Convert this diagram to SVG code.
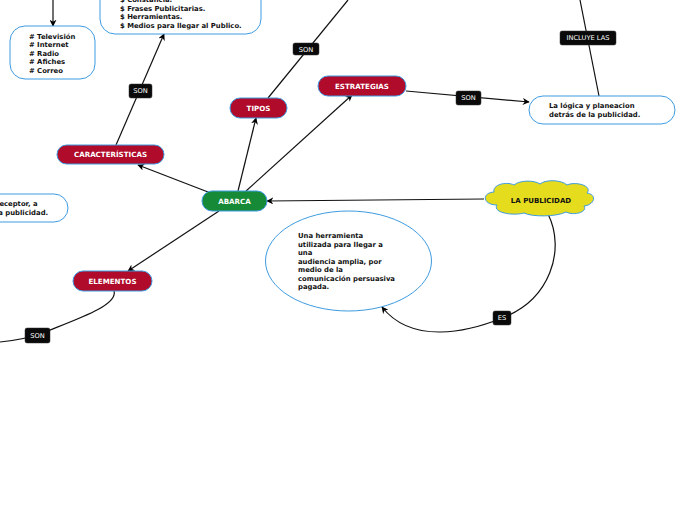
<svg xmlns="http://www.w3.org/2000/svg" width="696" height="520" viewBox="0 0 696 520">
<defs>
<marker id="arr" viewBox="0 0 10 10" refX="9" refY="5" markerWidth="7" markerHeight="7" orient="auto" markerUnits="userSpaceOnUse"><path d="M0,0 L10,5 L0,10 L3,5 Z" fill="#000"/></marker>
<style>
.c{stroke:#111;stroke-width:1.2;fill:none}
.ca{stroke:#111;stroke-width:1.2;fill:none;marker-end:url(#arr)}
.red{fill:#b00b2b;stroke:#3d9be0;stroke-width:1}
.grn{fill:#178a38;stroke:#3d9be0;stroke-width:1}
.box{fill:#fff;stroke:#3d9be0;stroke-width:1}
.nt{font-family:"DejaVu Sans",Verdana,sans-serif;font-weight:bold;font-size:7.1px;fill:#fff;text-anchor:middle}
.bt{font-family:"DejaVu Sans",Verdana,sans-serif;font-weight:bold;font-size:6.85px;fill:#111}
.lb{fill:#0a0a0a;stroke:#333;stroke-width:0.5}
.lt{font-family:"DejaVu Sans",Verdana,sans-serif;font-size:6.7px;fill:#fff;text-anchor:middle}
</style>
</defs>
<rect width="696" height="520" fill="#fff"/>
<g id="connectors">
<path class="ca" d="M53,0 L53,26"/>
<path class="ca" d="M116,145 L164,34"/>
<path class="ca" d="M208,192 L138,165"/>
<path class="ca" d="M238,191 L256,118"/>
<path class="ca" d="M246,191 L352,95"/>
<path class="ca" d="M219,211 L128,271"/>
<path class="ca" d="M484,199 L267,201"/>
<path class="c" d="M268,98 L348,0"/>
<path class="ca" d="M406,91 L529,102"/>
<path class="c" d="M599,96 L580,0"/>
<path class="ca" d="M548,214 C566,250 550,300 502,318 C468,332 412,345 382,307"/>
<path class="c" d="M114,291 C118,305 80,318 45,332 C30,338 10,341 0,342"/>
<g><rect class="lb" x="129" y="84" width="23" height="14" rx="2"/><text class="lt" x="140.5" y="93.4">SON</text></g>
<g><rect class="lb" x="293" y="43" width="26" height="12" rx="2"/><text class="lt" x="306" y="51.5">SON</text></g>
<g><rect class="lb" x="456" y="91" width="25" height="14" rx="2"/><text class="lt" x="468.5" y="100.4">SON</text></g>
<g><rect class="lb" x="560" y="31" width="56" height="14" rx="2"/><text class="lt" x="588" y="40.4">INCLUYE LAS</text></g>
<g><rect class="lb" x="493" y="311" width="18" height="14" rx="2"/><text class="lt" x="502" y="320.4">ES</text></g>
<g><rect class="lb" x="25" y="328" width="25" height="15" rx="2"/><text class="lt" x="37.5" y="337.9">SON</text></g>
</g>
<g id="abarca"><rect class="grn" x="202" y="191" width="65" height="20" rx="10"/><text class="nt" x="234.5" y="203.5">ABARCA</text></g>
<g id="caracteristicas"><rect class="red" x="57" y="145" width="107" height="19" rx="9.5"/><text class="nt" x="110.5" y="157.2">CARACTERÍSTICAS</text></g>
<g id="tipos"><rect class="red" x="230" y="98" width="57" height="20" rx="10"/><text class="nt" x="258.5" y="110.5">TIPOS</text></g>
<g id="estrategias"><rect class="red" x="318" y="76" width="88" height="20" rx="10"/><text class="nt" x="362" y="88.5">ESTRATEGIAS</text></g>
<g id="elementos"><rect class="red" x="73" y="271" width="79" height="20" rx="10"/><text class="nt" x="112.5" y="283.5">ELEMENTOS</text></g>
<g id="la-publicidad">
<path d="M497,205 C483,205 481,193 494,192 C492,185 506,181 514,185 C520,180 534,180 540,184 C546,179 562,180 567,185 C576,181 593,186 587,193 C598,195 594,205 584,206 C588,212 574,216 566,212 C556,217 532,217 524,213 C514,216 492,213 497,205 Z" fill="#e6dc1e" stroke="#3d9be0" stroke-width="1"/>
<text x="541" y="203" font-family="DejaVu Sans,Verdana,sans-serif" font-weight="bold" font-size="7" fill="#111" text-anchor="middle">LA PUBLICIDAD</text>
</g>
<g id="definicion">
<ellipse class="box" cx="348.5" cy="261" rx="83" ry="50"/>
<text class="bt"><tspan x="298" y="238">Una herramienta</tspan><tspan x="298" y="246.5">utilizada para llegar a</tspan><tspan x="298" y="255">una</tspan><tspan x="298" y="263.5">audiencia amplia, por</tspan><tspan x="298" y="272">medio de la</tspan><tspan x="298" y="280.5">comunicación persuasiva</tspan><tspan x="298" y="289">pagada.</tspan></text>
</g>
<g id="logica">
<rect class="box" x="529" y="96" width="146" height="28" rx="14"/>
<text class="bt"><tspan x="549" y="107.5">La lógica y planeacion</tspan><tspan x="549" y="116.5">detrás  de la publicidad.</tspan></text>
</g>
<g id="medios">
<rect class="box" x="10" y="26" width="85" height="53" rx="15"/>
<text class="bt"><tspan x="29" y="38.5">#  Televisión</tspan><tspan x="29" y="47">#  Internet</tspan><tspan x="29" y="55.5">#  Radio</tspan><tspan x="29" y="64">#  Afiches</tspan><tspan x="29" y="72.5">#  Correo</tspan></text>
</g>
<g id="caracteristicas-lista">
<rect class="box" x="100" y="-20" width="161" height="54" rx="15"/>
<text class="bt"><tspan x="120" y="2">$ Constancia.</tspan><tspan x="120" y="10.5">$ Frases  Publicitarias.</tspan><tspan x="120" y="19">$ Herramientas.</tspan><tspan x="120" y="27.5">$ Medios para llegar al Publico.</tspan></text>
</g>
<g id="receptor">
<rect class="box" x="-80" y="194" width="148" height="28" rx="14"/>
<text class="bt"><tspan x="-4" y="206">receptor, a</tspan><tspan x="-4" y="215">la publicidad.</tspan></text>
</g>
</svg>
